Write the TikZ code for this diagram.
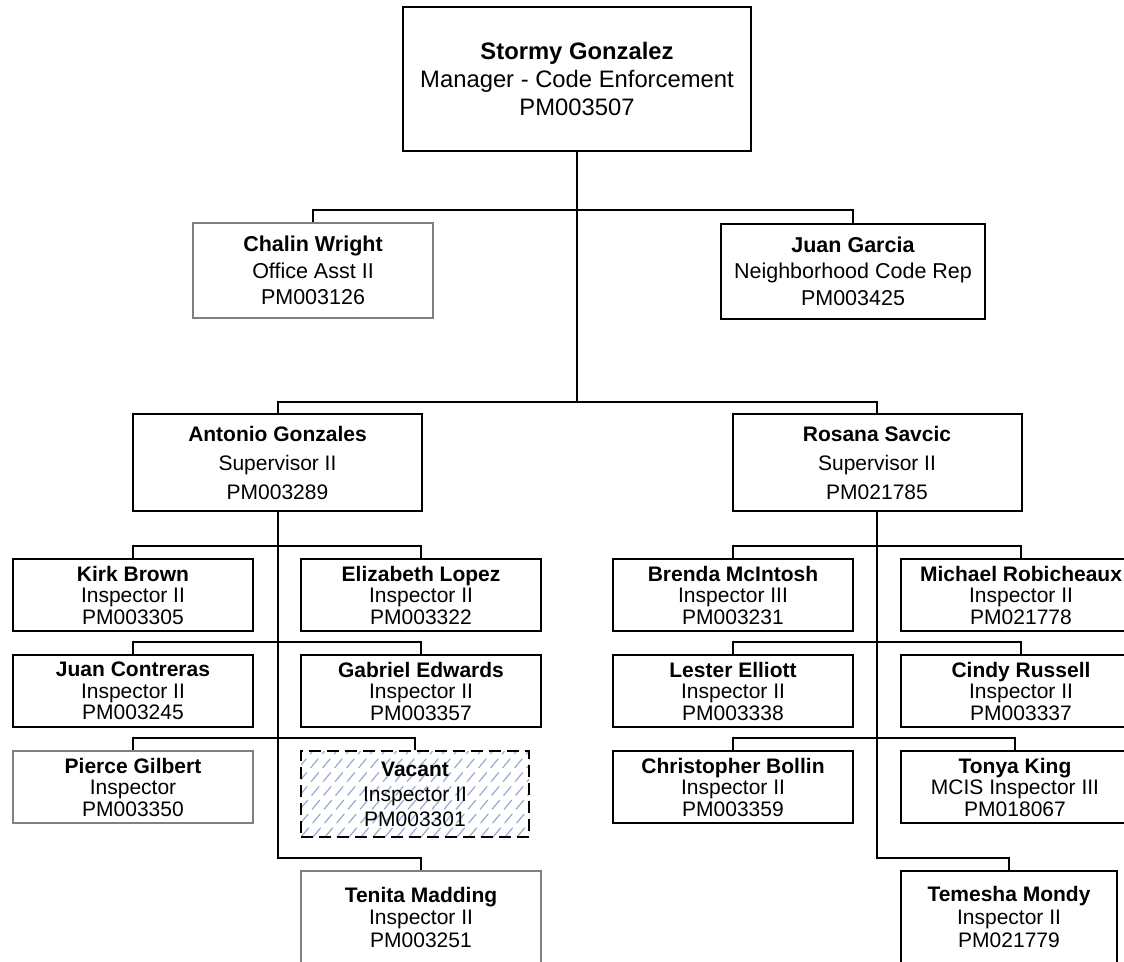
\documentclass[tikz,border=0pt]{standalone}
\usepackage{fontspec}
\setmainfont{Liberation Sans}
\definecolor{boxgray}{RGB}{128,128,128}
\definecolor{hatchblue}{RGB}{150,172,214}
\begin{document}
\begin{tikzpicture}[x=1pt,y=-1pt,
  box/.style={draw=black, line width=2pt, inner sep=0pt, align=center,
    minimum width=240pt, minimum height=72pt, fill=white,
    font=\fontsize{21}{21.5}\selectfont},
  graybox/.style={box, draw=boxgray, line width=1.5pt},
  topbox/.style={box, minimum width=348pt, minimum height=144pt,
    font=\fontsize{23.8}{28}\selectfont},
  lvltwo/.style={minimum height=95pt, font=\fontsize{21.5}{26.5}\selectfont},
  supbox/.style={box, minimum width=289pt, minimum height=97pt,
    font=\fontsize{21}{29}\selectfont},
  vacbox/.style={box, dash pattern=on 12pt off 6pt, line width=2pt,
    minimum width=228pt, minimum height=86pt,
    font=\fontsize{21}{25}\selectfont,
    path picture={
      \foreach \i in {-132,-120,...,240}
        \draw[hatchblue, line width=1.2pt]
          ([xshift=\i pt]path picture bounding box.south west) -- ++(100,-120);
    }},
  conn/.style={draw=black, line width=2pt}
]
\useasboundingbox (0,0) rectangle (1124,961);
\fill[white] (0,0) rectangle (1124,961);
\begin{scope}
\clip (0,0) rectangle (1124,961);

% nodes
\node[topbox] (top) at (577,79) {\textbf{Stormy Gonzalez}\\Manager - Code Enforcement\\PM003507};
\node[graybox, lvltwo] (chalin) at (313,270.5) {\textbf{Chalin Wright}\\Office Asst II\\PM003126};
\node[box, lvltwo, minimum width=264pt] (juang) at (853,271) {\textbf{Juan Garcia}\\Neighborhood Code Rep\\PM003425};

\node[supbox] (antonio) at (277.5,462.5) {\textbf{Antonio Gonzales}\\Supervisor II\\PM003289};
\node[supbox] (rosana) at (877,462.5) {\textbf{Rosana Savcic}\\Supervisor II\\PM021785};

% Antonio's team
\node[box] (kirk) at (133,595) {\textbf{Kirk Brown}\\Inspector II\\PM003305};
\node[box] (eliz) at (421,595) {\textbf{Elizabeth Lopez}\\Inspector II\\PM003322};
\node[box] (juanc) at (133,691) {\textbf{Juan Contreras}\\Inspector II\\PM003245};
\node[box] (gabriel) at (421,691) {\textbf{Gabriel Edwards}\\Inspector II\\PM003357};
\node[graybox] (pierce) at (133,787) {\textbf{Pierce Gilbert}\\Inspector\\PM003350};
\node[vacbox] (vacant) at (415,794) {\textbf{Vacant}\\Inspector II\\PM003301};
\node[graybox, minimum height=92pt, font=\fontsize{21}{22.5}\selectfont] (tenita) at (421,917) {\textbf{Tenita Madding}\\Inspector II\\PM003251};

% Rosana's team
\node[box] (brenda) at (733,595) {\textbf{Brenda McIntosh}\\Inspector III\\PM003231};
\node[box] (michael) at (1021,595) {\textbf{Michael Robicheaux}\\Inspector II\\PM021778};
\node[box] (lester) at (733,691) {\textbf{Lester Elliott}\\Inspector II\\PM003338};
\node[box] (cindy) at (1021,691) {\textbf{Cindy Russell}\\Inspector II\\PM003337};
\node[box] (chris) at (733,787) {\textbf{Christopher Bollin}\\Inspector II\\PM003359};
\node[box, minimum width=228pt] (tonya) at (1015,787) {\textbf{Tonya King}\\MCIS Inspector III\\PM018067};
\node[box, minimum height=92pt, minimum width=216pt, font=\fontsize{21}{23}\selectfont] (temesha) at (1009,917) {\textbf{Temesha Mondy}\\Inspector II\\PM021779};

% connectors
\draw[conn] (top.south) -- ([yshift=11pt]top.south |- antonio.north);
\draw[conn] (chalin.north) -- ++(0,-12) -| (juang.north);
\draw[conn] (antonio.north) -- ++(0,-11) -| (rosana.north);

\draw[conn] (antonio.south) |- ([yshift=12pt]tenita.north) -- (tenita.north);
\draw[conn] (kirk.north) -- ++(0,-12) -| (eliz.north);
\draw[conn] (juanc.north) -- ++(0,-12) -| (gabriel.north);
\draw[conn] (pierce.north) -- ++(0,-12) -| (vacant.north);

\draw[conn] (rosana.south) |- ([yshift=12pt]temesha.north) -- (temesha.north);
\draw[conn] (brenda.north) -- ++(0,-12) -| (michael.north);
\draw[conn] (lester.north) -- ++(0,-12) -| (cindy.north);
\draw[conn] (chris.north) -- ++(0,-12) -| (tonya.north);
\end{scope}
\end{tikzpicture}
\end{document}
